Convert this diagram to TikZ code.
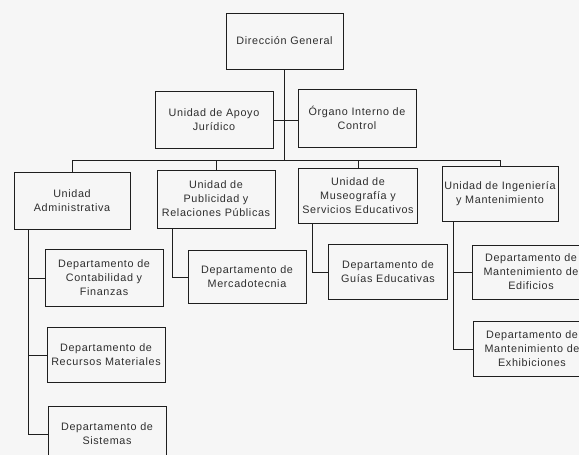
\documentclass[tikz,border=0pt]{standalone}
\usepackage{fontspec}
\setmainfont{Liberation Sans}[LetterSpace=6]
\definecolor{linec}{HTML}{1E1E1E}
\definecolor{textc}{HTML}{2E2E2E}
\definecolor{paper}{HTML}{F6F6F6}
\begin{document}
\begin{tikzpicture}[x=1pt,y=-1pt,
  box/.style={draw=linec, line width=0.9pt, align=center, minimum width=118pt,
    minimum height=56pt, inner sep=0.5pt, text=textc,
    font=\fontsize{10.8}{14}\selectfont},
  conn/.style={draw=linec, line width=0.9pt}]
\fill[paper] (0,0) rectangle (579,455);
\useasboundingbox (0,0) rectangle (579,455);
% level 0 and staff
\node[box, minimum width=117pt] (dg) at (284.5,41) {Dirección General};
\node[box, minimum height=57pt] (apoyo) at (214,120) {Unidad de Apoyo\\Jurídico};
\node[box, minimum height=58pt] (organo) at (357,118) {Órgano Interno de\\Control};
% level 1
\node[box, minimum width=116pt, minimum height=57pt] (ua) at (72,201) {Unidad\\Administrativa};
\node[box, minimum height=58pt] (pub) at (216,199) {Unidad de\\Publicidad y\\Relaciones Públicas};
\node[box, minimum width=119pt, minimum height=55pt] (mus) at (358,196) {Unidad de\\Museografía y\\Servicios Educativos};
\node[box, minimum width=116pt, minimum height=55pt] (ing) at (500,194) {Unidad de Ingeniería\\y Mantenimiento};
% level 2
\node[box, minimum height=57pt] (cont) at (104,278) {Departamento de\\Contabilidad y\\Finanzas};
\node[box, minimum height=55pt] (rm) at (106,355) {Departamento de\\Recursos Materiales};
\node[box, minimum height=56pt] (sist) at (107,434) {Departamento de\\Sistemas};
\node[box, minimum height=53pt] (merc) at (247,277) {Departamento de\\Mercadotecnia};
\node[box, minimum width=119pt, minimum height=55pt] (guias) at (388,272) {Departamento de\\Guías Educativas};
\node[box, minimum height=54pt] (edif) at (531,272) {Departamento de\\Mantenimiento de\\Edificios};
\node[box, minimum height=55pt] (exhib) at (532,349) {Departamento de\\Mantenimiento de\\Exhibiciones};
% coordinates
\coordinate (busL) at (72,160);
\coordinate (busR) at (500,160);
\coordinate (uaT) at (28,0);
\coordinate (pubT) at (172,0);
\coordinate (musT) at (312,0);
\coordinate (ingT) at (453,0);
% connectors
\draw[conn] (dg.south) -- (dg.south |- busL);
\draw[conn] (apoyo.east) -- (apoyo.east -| organo.west);
\draw[conn] (busL) -- (busR);
\draw[conn] (ua.north) -- (ua.north |- busL);
\draw[conn] (pub.north) -- (pub.north |- busL);
\draw[conn] (mus.north) -- (mus.north |- busL);
\draw[conn] (ing.north) -- (ing.north |- busL);
\draw[conn] (ua.south -| uaT) |- (cont.west);
\draw[conn] (ua.south -| uaT) |- (rm.west);
\draw[conn] (ua.south -| uaT) |- (sist.west);
\draw[conn] (pub.south -| pubT) |- (merc.west);
\draw[conn] (mus.south -| musT) |- (guias.west);
\draw[conn] (ing.south -| ingT) |- (edif.west);
\draw[conn] (ing.south -| ingT) |- (exhib.west);
\end{tikzpicture}
\end{document}
